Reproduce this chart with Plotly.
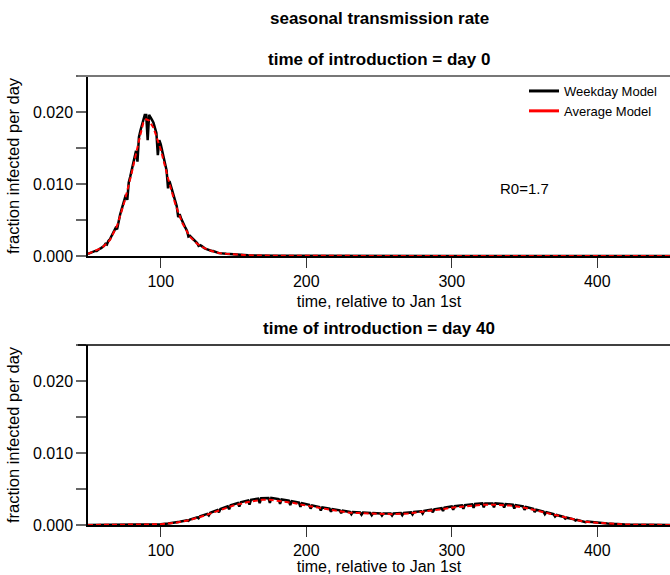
import plotly.graph_objects as go
from plotly.subplots import make_subplots

# ---------------- data ----------------
# Top panel: introduction on day 0
top_avg_day = [50, 55, 60, 65, 70, 75, 80, 85, 88, 90, 92, 95, 100, 105, 110, 115, 120,
               125, 130, 135, 140, 145, 150, 160, 180, 200, 250, 300, 350, 400, 450]
top_avg_val = [0.0003, 0.0007, 0.0012, 0.0022, 0.0042, 0.0075, 0.0115, 0.0160, 0.0185,
               0.0190, 0.0188, 0.0178, 0.0148, 0.0108, 0.0072, 0.0045, 0.0027, 0.0017,
               0.0011, 0.0007, 0.0004, 0.0003, 0.0002, 0.0001, 0.00003, 0.00001, 0.0,
               0.0, 0.0, 0.0, 0.0]

top_wk_day = list(range(50, 141)) + [145, 150, 160, 180, 200, 250, 300, 350, 400, 450]
top_wk_val = [
    0.0003, 0.0004, 0.0005, 0.0006, 0.0006, 0.0007, 0.0007, 0.0009, 0.0010, 0.0011,   # 50-59
    0.0012, 0.0014, 0.0017, 0.0016, 0.0021, 0.0023, 0.0027, 0.0031, 0.0035, 0.0039,   # 60-69
    0.0037, 0.0049, 0.0057, 0.0064, 0.0070, 0.0077, 0.0085, 0.0078, 0.0102, 0.0110,   # 70-79
    0.0118, 0.0128, 0.0137, 0.0146, 0.0131, 0.0165, 0.0174, 0.0182, 0.0192, 0.0196,   # 80-89
    0.0196, 0.0161, 0.0196, 0.0193, 0.0189, 0.0185, 0.0178, 0.0171, 0.0140, 0.0161,   # 90-99
    0.0155, 0.0146, 0.0137, 0.0128, 0.0119, 0.0094, 0.0104, 0.0097, 0.0089, 0.0082,   # 100-109
    0.0075, 0.0069, 0.0054, 0.0058, 0.0052, 0.0047, 0.0043, 0.0039, 0.0035, 0.0027,   # 110-119
    0.0028, 0.0026, 0.0024, 0.0022, 0.0020, 0.0018, 0.0014, 0.0015, 0.0014, 0.0012,   # 120-129
    0.0011, 0.0010, 0.0009, 0.0008, 0.0008, 0.0007, 0.0007, 0.0006, 0.0005, 0.0005,   # 130-139
    0.0004,                                                                           # 140
    0.0003, 0.0002, 0.0001, 0.00003, 0.00001, 0.0, 0.0, 0.0, 0.0, 0.0]

# Bottom panel: introduction on day 40
bot_avg_day = [50, 80, 90, 100, 110, 120, 130, 140, 150, 160, 170, 175, 180, 190, 200,
               210, 220, 230, 240, 250, 260, 270, 280, 290, 300, 310, 320, 330, 340,
               350, 360, 370, 380, 390, 400, 410, 420, 430, 450]
bot_avg_val = [0.0, 0.00001, 0.00005, 0.0001, 0.0003, 0.0007, 0.0013, 0.0020, 0.0027,
               0.0032, 0.0035, 0.0035, 0.0034, 0.0031, 0.0027, 0.0023, 0.0020, 0.0017,
               0.0016, 0.0015, 0.0015, 0.0016, 0.0018, 0.0021, 0.0024, 0.0026, 0.0028,
               0.0028, 0.0027, 0.0024, 0.0019, 0.0014, 0.0009, 0.0005, 0.0003, 0.00015,
               0.00007, 0.00003, 0.00001]

bot_wk_day = [50, 80, 90, 100, 105, 110,
              112, 113, 118, 119, 120, 125, 126, 127, 132, 133, 134, 139,
              140, 141, 146, 147, 148, 153, 154, 155, 160, 161, 162, 167,
              168, 169, 174, 175, 176, 181, 182, 183, 188, 189, 190, 195,
              196, 197, 202, 203, 204, 209, 210, 211, 216, 217, 218, 223,
              224, 225, 230, 231, 232, 237, 238, 239, 244, 245, 246, 251,
              252, 253, 258, 259, 260, 265, 266, 267, 272, 273, 274, 279,
              280, 281, 286, 287, 288, 293, 294, 295, 300, 301, 302, 307,
              308, 309, 314, 315, 316, 321, 322, 323, 328, 329, 330, 335,
              336, 337, 342, 343, 344, 349, 350, 351, 356, 357, 358, 363,
              364, 365, 370, 371, 372, 377, 378, 379, 384, 385, 386, 391,
              392, 393, 398, 399, 400, 405, 406, 407, 412, 413, 414, 419,
              430, 450]
bot_wk_val = [0.0, 0.00001, 0.00005, 0.0001, 0.0002, 0.0003,
              0.00033, 0.00045, 0.00066, 0.00058, 0.00075, 0.00107, 0.00093, 0.0012, 0.00154, 0.00133, 0.00169, 0.00207,
              0.00176, 0.00221, 0.00259, 0.00219, 0.00274, 0.00305, 0.00255, 0.00316, 0.00342, 0.00284, 0.00349, 0.00365,
              0.00303, 0.00371, 0.00375, 0.00308, 0.00375, 0.00361, 0.00294, 0.00354, 0.00338, 0.00275, 0.00332, 0.0031,
              0.00252, 0.00302, 0.0028, 0.00227, 0.00272, 0.0025, 0.00202, 0.00243, 0.00227, 0.00184, 0.0022, 0.00204,
              0.00165, 0.00198, 0.00182, 0.00149, 0.0018, 0.00174, 0.00143, 0.00172, 0.00167, 0.00136, 0.00165, 0.00161,
              0.00132, 0.00161, 0.00161, 0.00132, 0.00161, 0.00166, 0.00137, 0.00168, 0.00175, 0.00146, 0.0018, 0.0019,
              0.00158, 0.00196, 0.00212, 0.00177, 0.00218, 0.00234, 0.00195, 0.00241, 0.00257, 0.00213, 0.00261, 0.00272,
              0.00225, 0.00276, 0.00287, 0.00238, 0.00291, 0.003, 0.00246, 0.003, 0.003, 0.00246, 0.003, 0.00294,
              0.00241, 0.00292, 0.00282, 0.0023, 0.00276, 0.0026, 0.00211, 0.00251, 0.00225, 0.0018, 0.00214, 0.00187,
              0.0015, 0.00177, 0.0015, 0.00119, 0.00139, 0.00112, 0.00088, 0.00102, 0.00079, 0.00062, 0.00071, 0.00051,
              0.0004, 0.00047, 0.00036, 0.00028, 0.00032, 0.00024, 0.00018, 0.0002, 0.00015, 0.00011, 0.00013, 0.00008,
              0.00003, 0.00001]

series_names = ["Weekday Model", "Average Model"]
panel_titles = ["time of introduction = day 0", "time of introduction = day 40"]
main_title = "seasonal transmission rate"
x_title = "time, relative to Jan 1st"
y_title = "fraction infected per day"
r0_label = "R0=1.7"

# ---------------- figure ----------------
FONT = "Liberation Sans, Arial, sans-serif"
fig = make_subplots(rows=2, cols=1, vertical_spacing=0.2)

H = 449.0  # plot-area height in px (575 - 76 - 50)
top_dom = [(525 - 256) / H, 1.0]
bot_dom = [0.0, (525 - 345) / H]

panels = [(1, top_wk_day, top_wk_val, top_avg_day, top_avg_val),
          (2, bot_wk_day, bot_wk_val, bot_avg_day, bot_avg_val)]
for row, wd, wv, ad, av in panels:
    fig.add_trace(go.Scatter(x=wd, y=wv, mode="lines", name=series_names[0],
                             line=dict(color="black", width=2.5), showlegend=False),
                  row=row, col=1)
    fig.add_trace(go.Scatter(x=ad, y=av, mode="lines", name=series_names[1],
                             line=dict(color="red", width=2, dash="5px,3px"),
                             showlegend=False),
                  row=row, col=1)

# legend-only entries (solid strokes as in the reference legend)
fig.add_trace(go.Scatter(x=[None], y=[None], mode="lines", name=series_names[0],
                         line=dict(color="black", width=3)), row=1, col=1)
fig.add_trace(go.Scatter(x=[None], y=[None], mode="lines", name=series_names[1],
                         line=dict(color="red", width=3)), row=1, col=1)

for row, dom, stand in [(1, top_dom, 7), (2, bot_dom, 3)]:
    fig.update_xaxes(row=row, col=1, range=[50, 450], tick0=0, dtick=100,
                     showline=True, linecolor="black", linewidth=1.5,
                     ticks="outside", ticklen=10, tickcolor="#333", tickwidth=1.2,
                     showgrid=False, zeroline=False,
                     tickfont=dict(family=FONT, size=16, color="black"),
                     title=dict(text=x_title, standoff=stand,
                                font=dict(family=FONT, size=16, color="black")))
    fig.update_yaxes(row=row, col=1, domain=dom, range=[0, 0.025], dtick=0.01,
                     tickformat=".3f",
                     showline=True, linecolor="black", linewidth=1.5,
                     ticks="outside", ticklen=10, tickcolor="#666", tickwidth=1.5,
                     minor=dict(dtick=0.005, ticks="outside", ticklen=10,
                                tickcolor="#666", tickwidth=1.5),
                     showgrid=False, zeroline=False,
                     tickfont=dict(family=FONT, size=16, color="black"),
                     title=dict(text=y_title, standoff=9,
                                font=dict(family=FONT, size=16.5, color="black")))

x_left = (78 - 88) / 582.0
fig.add_shape(type="line", xref="paper", yref="paper", x0=x_left, x1=1,
              y0=1, y1=1, line=dict(color="#777", width=2))
fig.add_shape(type="line", xref="paper", yref="paper", x0=x_left, x1=1,
              y0=bot_dom[1], y1=bot_dom[1], line=dict(color="black", width=1.5))

anns = [
    dict(text="<b>%s</b>" % main_title, x=0.5, y=(525 - 18) / H),
    dict(text="<b>%s</b>" % panel_titles[0], x=0.5, y=(525 - 60) / H),
    dict(text="<b>%s</b>" % panel_titles[1], x=0.5, y=(525 - 328) / H),
]
for a in anns:
    fig.add_annotation(xref="paper", yref="paper", showarrow=False, xanchor="center",
                       yanchor="middle", font=dict(family=FONT, size=17, color="black"), **a)
fig.add_annotation(xref="x", yref="y", x=350, y=0.0094, text=r0_label, showarrow=False,
                   font=dict(family=FONT, size=15, color="black"))

fig.update_layout(
    width=670, height=575,
    margin=dict(l=88, r=0, t=76, b=50),
    plot_bgcolor="white", paper_bgcolor="white",
    showlegend=True,
    legend=dict(x=(524 - 88) / 582.0, y=1.0, xanchor="left", yanchor="top",
                bgcolor="rgba(0,0,0,0)", borderwidth=0,
                font=dict(family=FONT, size=13, color="black"),
                tracegroupgap=0, itemwidth=30),
)

fig.write_html("out.html")
